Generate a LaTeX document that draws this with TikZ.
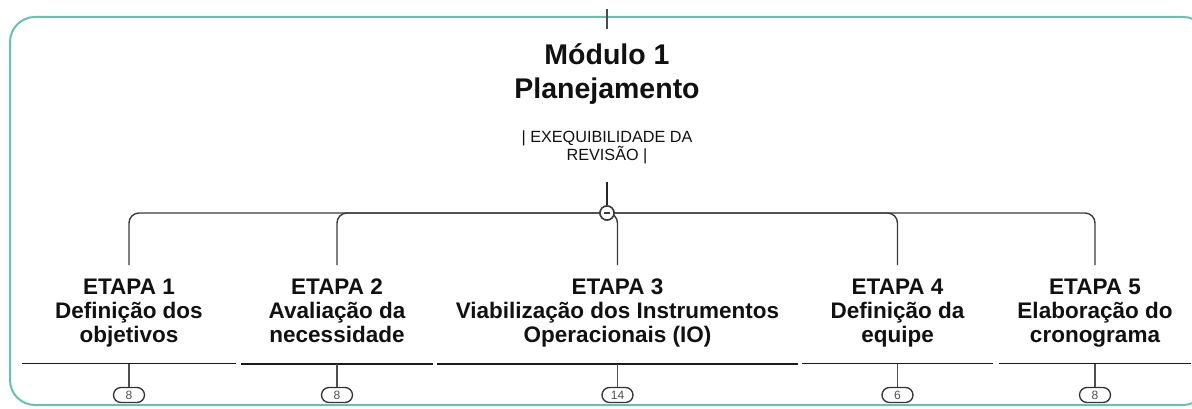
\documentclass[tikz,border=0pt]{standalone}
\usepackage{fontspec}
\setmainfont{Liberation Sans}
\definecolor{framecol}{HTML}{66C2AE}
\definecolor{linecol}{HTML}{3A3A3A}
\definecolor{badgecol}{HTML}{505050}
\definecolor{textcol}{HTML}{111111}
\begin{document}
\begin{tikzpicture}[x=1pt,y=-1pt,
  frame/.style={draw=framecol, line width=2pt, rounded corners=25pt},
  titletext/.style={anchor=north, align=center, inner sep=0pt, text=textcol,
    font=\fontsize{28.5}{34}\selectfont\bfseries, execute at begin node=\strut},
  subtext/.style={anchor=north, align=center, inner sep=0pt, text=textcol,
    font=\fontsize{16.2}{18}\selectfont, execute at begin node=\strut},
  etapa/.style={anchor=north, align=center, inner xsep=0pt, inner ysep=13.8pt, text=textcol,
    font=\fontsize{22.5}{24}\selectfont\bfseries,
    execute at begin node=\strut, execute at end node=\strut},
  hubnode/.style={circle, draw=linecol, line width=1.5pt, fill=white, minimum size=14pt, inner sep=0pt},
  stem/.style={draw=black!85, line width=2.2pt},
  branch/.style={draw=linecol, line width=1.4pt, rounded corners=10pt},
  under/.style={draw=black!90, line width=1.3pt},
  drop/.style={draw=badgecol, line width=1.4pt},
  badge/.style={draw=black!80, line width=1.3pt, rounded corners=7.5pt, minimum width=31pt,
    minimum height=15pt, inner sep=0pt, fill=white, text=badgecol, font=\fontsize{12}{12}\selectfont}
]
\useasboundingbox (0,0) rectangle (1192,409);
\begin{scope}
  \clip (0,0) rectangle (1192,409);
  \draw[frame] (10,17) rectangle (1208,405);
\end{scope}

% top stub
\coordinate (stubtop) at (607,9);
\coordinate (stubbot) at (607,29);
\draw[draw=black!70, line width=1.3pt] (stubtop) -- (stubbot);

% title and subtitle
\node[titletext] (title) at (607,43) {Módulo 1\\Planejamento};
\node[subtext] (sub) at (607,131) {| EXEQUIBILIDADE DA\\REVISÃO |};

% hub
\coordinate (stemtop) at (607,182);
\node[hubnode] (hub) at (607,213) {};

% etapas
\node[etapa, minimum width=214pt] (e1) at (129,265) {ETAPA 1\\Definição dos\\objetivos};
\node[etapa, minimum width=192pt] (e2) at (337,265) {ETAPA 2\\Avaliação da\\necessidade};
\node[etapa, minimum width=361pt] (e3) at (617.5,265) {ETAPA 3\\Viabilização dos Instrumentos\\Operacionais (IO)};
\node[etapa, minimum width=191pt] (e4) at (897.5,265) {ETAPA 4\\Definição da\\equipe};
\node[etapa, minimum width=192pt] (e5) at (1095,265) {ETAPA 5\\Elaboração do\\cronograma};

% badges
\node[badge] (k1) at (129,395) {8};
\node[badge] (k2) at (337,395) {8};
\node[badge] (k3) at (617.5,395) {14};
\node[badge] (k4) at (897.5,395) {6};
\node[badge] (k5) at (1095,395) {8};

% branches
\foreach \i in {1,...,5} {
  \draw[branch] (hub.center) -| (e\i.north);
  \draw[under] (e\i.south west) -- (e\i.south east);
  \draw[drop] (e\i.south) -- (k\i.north);
}
\draw[stem] (stemtop) -- (hub.north);

% redraw hub on top
\node[hubnode] at (hub.center) {};
\draw[draw=linecol, line width=1.2pt] ([xshift=-3pt]hub.center) -- ([xshift=3pt]hub.center);
\end{tikzpicture}
\end{document}
